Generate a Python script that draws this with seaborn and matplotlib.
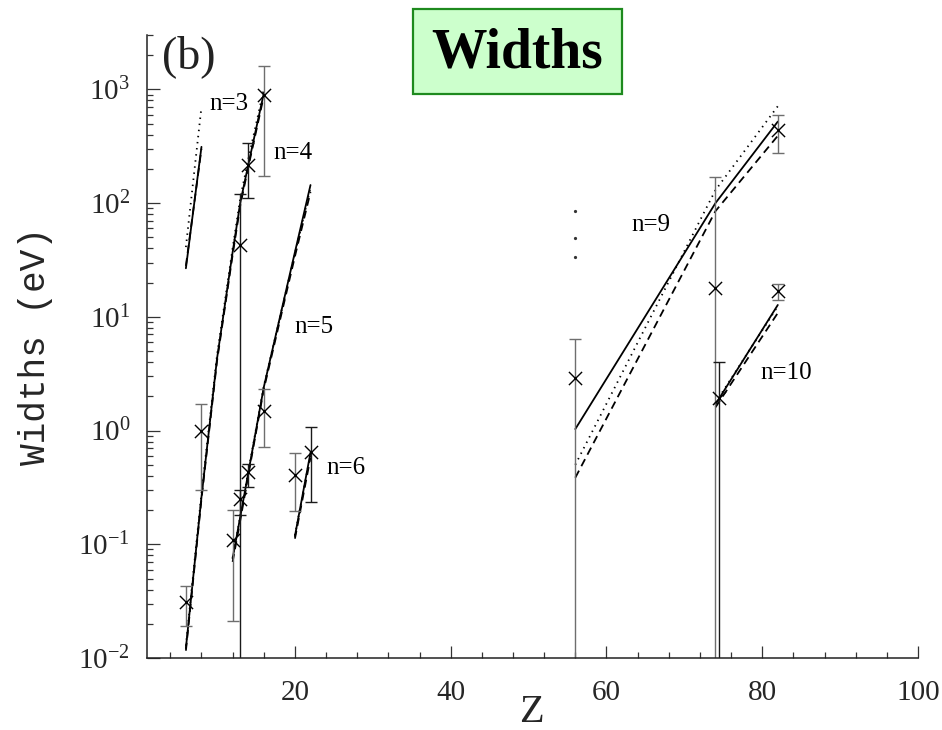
import matplotlib
matplotlib.use("Agg")
import numpy as np
import pandas as pd
import matplotlib.pyplot as plt
from matplotlib.ticker import MultipleLocator, LogLocator, LogFormatterMathtext, NullFormatter
from matplotlib.patches import Rectangle
import seaborn as sns

# ---- measured widths (eV) with error ranges ----
meas_Z = [6, 8, 12, 13, 13, 14, 14, 16, 16, 20, 22, 56, 74, 74.5, 82, 82]
meas_W = [0.031, 1.0, 0.11, 43, 0.25, 0.43, 215, 885, 1.5, 0.41, 0.65, 2.9, 18, 1.95, 437, 17]
meas_lo = [0.019, 0.30, 0.021, 0.001, 0.18, 0.32, 111, 173, 0.71, 0.195, 0.235,
           0.001, 0.001, 0.001, 273, 14.1]
meas_hi = [0.043, 1.7, 0.20, 120, 0.30, 0.51, 336, 1600, 2.3, 0.64, 1.08,
           6.4, 168, 4.0, 592, 19.5]
meas_set = ["a", "a", "a", "b", "b", "b", "b", "a", "a", "a", "b", "a", "a", "b", "a", "a"]

# stray dotted marks at Z = 56
dots_Z = [56, 56, 56]
dots_W = [85, 49, 33.5]

# ---- calculated widths for each shell n (solid / dotted / dashed) ----
n3_Z = [6, 8]
n3_solid = [26.7, 312]
n3_dotted = [41, 700]
n3_dashed = [28, 300]

n4_Z = [6, 8, 10, 12, 13, 14, 16]
n4_solid = [0.0122, 0.26, 4.3, 37, 102, 215, 920]
n4_dotted = [0.0128, 0.28, 4.6, 40, 112, 240, 1000]
n4_dashed = [0.0116, 0.25, 4.1, 35, 97, 205, 870]

n5_Z = [12, 13, 14, 16, 20, 22]
n5_solid = [0.075, 0.177, 0.42, 2.4, 37, 144]
n5_dotted = [0.076, 0.18, 0.43, 2.45, 36, 135]
n5_dashed = [0.070, 0.165, 0.40, 2.3, 34, 125]

n6_Z = [20, 22]
n6_solid = [0.118, 0.64]
n6_dotted = [0.120, 0.62]
n6_dashed = [0.112, 0.58]

n9_Z = [56, 74, 82]
n9_solid = [1.03, 100, 520]
n9_dotted = [0.50, 130, 710]
n9_dashed = [0.385, 85, 390]

n10_Z = [74, 82]
n10_solid = [1.7, 12.7]
n10_dotted = [1.75, 12.4]
n10_dashed = [1.6, 10.8]

shell_labels = ["n=3", "n=4", "n=5", "n=6", "n=9", "n=10"]
label_Z = [11.5, 19.7, 22.4, 26.6, 65.7, 83.1]
label_W = [738, 275, 8.2, 0.47, 64, 3.2]

tick_Z = [20, 40, 60, 80, 100]

# ---- long-format table of the calculated curves ----
curves = {
    3: (n3_Z, n3_solid, n3_dotted, n3_dashed),
    4: (n4_Z, n4_solid, n4_dotted, n4_dashed),
    5: (n5_Z, n5_solid, n5_dotted, n5_dashed),
    6: (n6_Z, n6_solid, n6_dotted, n6_dashed),
    9: (n9_Z, n9_solid, n9_dotted, n9_dashed),
    10: (n10_Z, n10_solid, n10_dotted, n10_dashed),
}
rows = []
for n, (zs, sol, dot, das) in curves.items():
    for model, vals in (("solid", sol), ("dotted", dot), ("dashed", das)):
        for z, w in zip(zs, vals):
            rows.append({"n": n, "model": model, "Z": z, "W": w})
lines_df = pd.DataFrame(rows)

# ---- styling ----
sns.set_theme(style="ticks")
plt.rcParams["font.family"] = ["Liberation Serif", "DejaVu Serif"]
plt.rcParams["mathtext.fontset"] = "custom"
plt.rcParams["mathtext.rm"] = "Liberation Serif"
plt.rcParams["mathtext.it"] = "Liberation Serif:italic"

fig = plt.figure(figsize=(9.42, 7.30), dpi=100)
ax = fig.add_axes([0.156, 0.0986, 0.8185, 0.8534])
ax.set_yscale("log")

sns.lineplot(data=lines_df, x="Z", y="W", units="n", style="model",
             style_order=["solid", "dotted", "dashed"],
             dashes={"solid": "", "dotted": (0.8, 2.6), "dashed": (4.4, 2.8)},
             estimator=None, sort=False, color="black", linewidth=1.3,
             legend=False, ax=ax)

bar_colors = {"a": "#6e6e6e", "b": "#1a1a1a"}
for z, w, lo, hi, s in zip(meas_Z, meas_W, meas_lo, meas_hi, meas_set):
    ax.errorbar([z], [w], yerr=[[w - lo], [hi - w]], fmt="none",
                ecolor=bar_colors[s], elinewidth=1.0, capsize=4.5, capthick=1.0)

sns.scatterplot(x=meas_Z, y=meas_W, marker="x", s=90, color="black",
                linewidth=1.0, ax=ax, zorder=5)
ax.plot(dots_Z, dots_W, linestyle="none", marker="o", markersize=1.3, color="#333333")

for lab, z, w in zip(shell_labels, label_Z, label_W):
    ax.text(z, w, lab, ha="center", va="center", fontsize=18, color="black")

ax.text(0.020, 1.0, "(b)", transform=ax.transAxes, ha="left", va="top",
        fontsize=33, color="#222222")

# ---- axes ----
ax.set_xlim(1, 100)
ax.set_ylim(1e-2, 3e3)
ax.set_xticks(tick_Z)
ax.xaxis.set_minor_locator(MultipleLocator(4))
ax.yaxis.set_major_locator(LogLocator(base=10, numticks=10))
ax.yaxis.set_minor_locator(LogLocator(base=10, subs=np.arange(2, 10), numticks=20))
ax.yaxis.set_major_formatter(LogFormatterMathtext())
ax.yaxis.set_minor_formatter(NullFormatter())

ax.tick_params(which="both", direction="in", color="#333333", width=0.9)
ax.tick_params(which="major", length=9)
ax.tick_params(which="minor", length=4.5)
ax.tick_params(axis="x", which="major", pad=16, labelsize=21)
ax.tick_params(axis="y", which="major", pad=12, labelsize=21)
sns.despine(ax=ax)
for sp in ("left", "bottom"):
    ax.spines[sp].set_linewidth(1.1)
    ax.spines[sp].set_color("#222222")

ax.set_xlabel("Z", fontsize=29, va="center")
ax.xaxis.set_label_coords(0.499, -0.087)
ax.set_ylabel("Widths (eV)", fontsize=26, va="center",
              family=["Liberation Mono", "DejaVu Sans Mono"])
ax.yaxis.set_label_coords(-0.145, 0.5)

# ---- title box ----
box = Rectangle((0.4384, 0.8712), 0.2219, 0.1164, transform=fig.transFigure,
                facecolor="#ccffcc", edgecolor="#1e8a1e", linewidth=1.6, zorder=10)
fig.patches.append(box)
fig.text(0.549, 0.927, "Widths", ha="center", va="center", fontsize=40,
         fontweight="bold", color="black", zorder=11)

fig.savefig("out.png", dpi=100)
